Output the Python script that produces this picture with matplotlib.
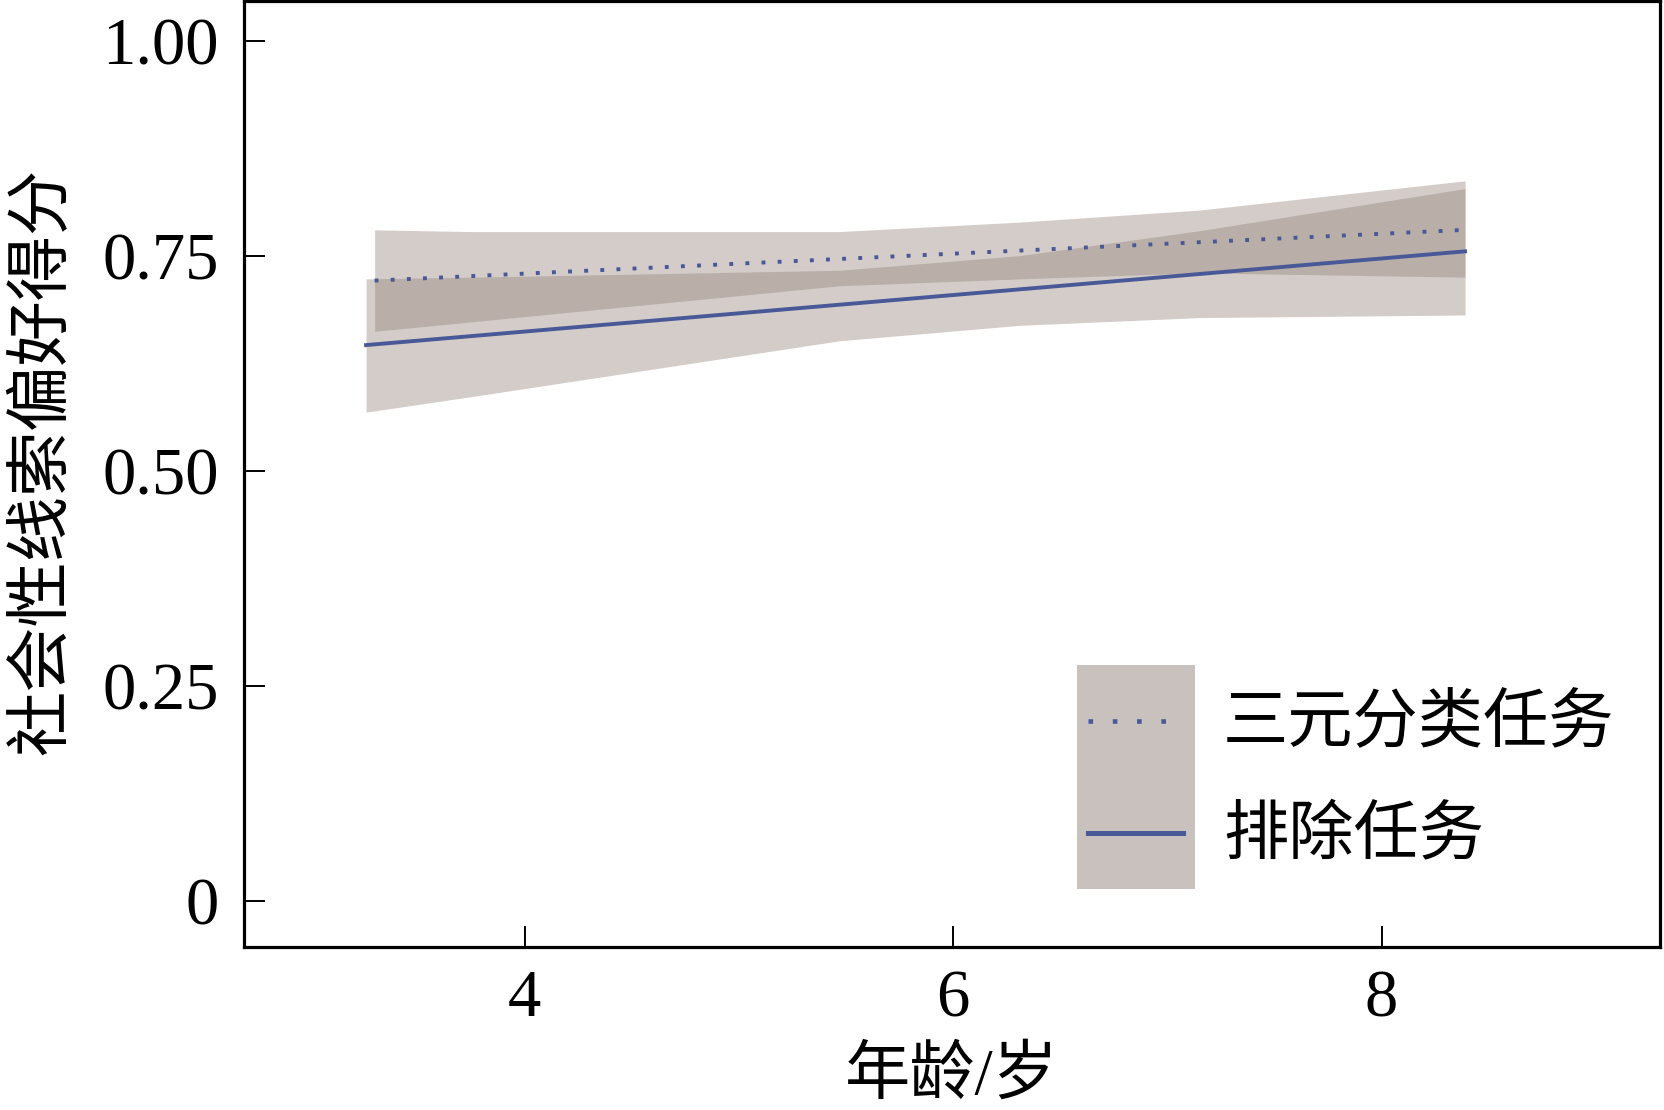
import numpy as np
import matplotlib
matplotlib.use('Agg')
import matplotlib.pyplot as plt
from matplotlib.legend_handler import HandlerBase
from matplotlib.lines import Line2D
from matplotlib.patches import Rectangle

# 数字用 Times 风格，中文回退到 Noto Sans CJK
plt.rcParams['font.family'] = ['Liberation Serif', 'Noto Sans CJK SC']
plt.rcParams['axes.unicode_minus'] = False

# ---------------- 数据 ----------------
# 三元分类任务（虚线）
tri_line_x = [3.30, 8.39]
tri_line_y = [0.721, 0.780]
tri_band_x = [3.30, 3.75, 5.47, 6.31, 7.15, 8.39]
tri_band_lo = [0.662, 0.673, 0.715, 0.723, 0.730, 0.725]
tri_band_hi = [0.780, 0.778, 0.778, 0.789, 0.803, 0.837]

# 排除任务（实线）
exc_line_x = [3.26, 8.39]
exc_line_y = [0.646, 0.755]
exc_band_x = [3.26, 3.75, 5.47, 6.31, 7.15, 8.39]
exc_band_lo = [0.568, 0.586, 0.651, 0.669, 0.678, 0.681]
exc_band_hi = [0.723, 0.725, 0.733, 0.750, 0.779, 0.828]

labels = ['三元分类任务', '排除任务']
x_ticks = [4, 6, 8]
y_ticks = [0, 0.25, 0.50, 0.75, 1.00]
y_tick_labels = ['0', '0.25', '0.50', '0.75', '1.00']

LINE_COLOR = '#495896'
BAND_COLOR = '#998980'
LEGEND_FILL = '#c8c1be'
FS = 47


class BandLineHandler(HandlerBase):
    """图例：灰色方块 + 中间一条线（两端留白）"""
    def create_artists(self, legend, orig_handle, xdescent, ydescent,
                       width, height, fontsize, trans):
        rect = Rectangle((-xdescent, -ydescent), width, height,
                         facecolor=LEGEND_FILL, edgecolor='none', transform=trans)
        pad = 0.1 * width
        yc = height / 2 - ydescent
        ln = Line2D([-xdescent + pad, -xdescent + width - pad], [yc, yc])
        ln.update_from(orig_handle)
        ln.set_transform(trans)
        return [rect, ln]


fig = plt.figure(figsize=(16.64, 11.10), dpi=100)
ax = fig.add_axes([0.1466, 0.1468, 0.8510, 0.8522])

ax.fill_between(tri_band_x, tri_band_lo, tri_band_hi, color=BAND_COLOR,
                alpha=0.43, linewidth=0, zorder=1)
ax.fill_between(exc_band_x, exc_band_lo, exc_band_hi, color=BAND_COLOR,
                alpha=0.43, linewidth=0, zorder=1)
ax.plot(tri_line_x, tri_line_y, color=LINE_COLOR, lw=2.8,
        linestyle=(0, (1, 3.15)), zorder=3)
ax.plot(exc_line_x, exc_line_y, color=LINE_COLOR, lw=2.8, zorder=3)

ax.set_xlim(2.69, 9.30)
ax.set_ylim(-0.054, 1.046)
ax.set_xticks(x_ticks)
ax.set_yticks(y_ticks)
ax.set_yticklabels(y_tick_labels)
ax.tick_params(direction='in', length=15, width=1.4, labelsize=48)
ax.tick_params(axis='x', pad=16)
ax.tick_params(axis='y', pad=18)
for sp in ax.spines.values():
    sp.set_linewidth(2.3)

ax.set_xlabel('年龄/岁', fontsize=FS)
ax.set_ylabel('社会性线索偏好得分', fontsize=FS)
ax.xaxis.set_label_coords(0.5, -0.106)
ax.yaxis.set_label_coords(-0.12, 0.513)

h_tri = Line2D([], [], color=LINE_COLOR, lw=3.3, linestyle=(0, (1, 4.3)))
h_exc = Line2D([], [], color=LINE_COLOR, lw=3.6)
ax.legend([h_tri, h_exc], labels, handler_map={Line2D: BandLineHandler()},
          loc='lower left', bbox_to_anchor=(0.588, 0.0613), frameon=False,
          borderpad=0, borderaxespad=0, labelspacing=0, handlelength=1.81,
          handleheight=2.26, handletextpad=0.43, fontsize=FS)

fig.savefig('out.png', dpi=100)
